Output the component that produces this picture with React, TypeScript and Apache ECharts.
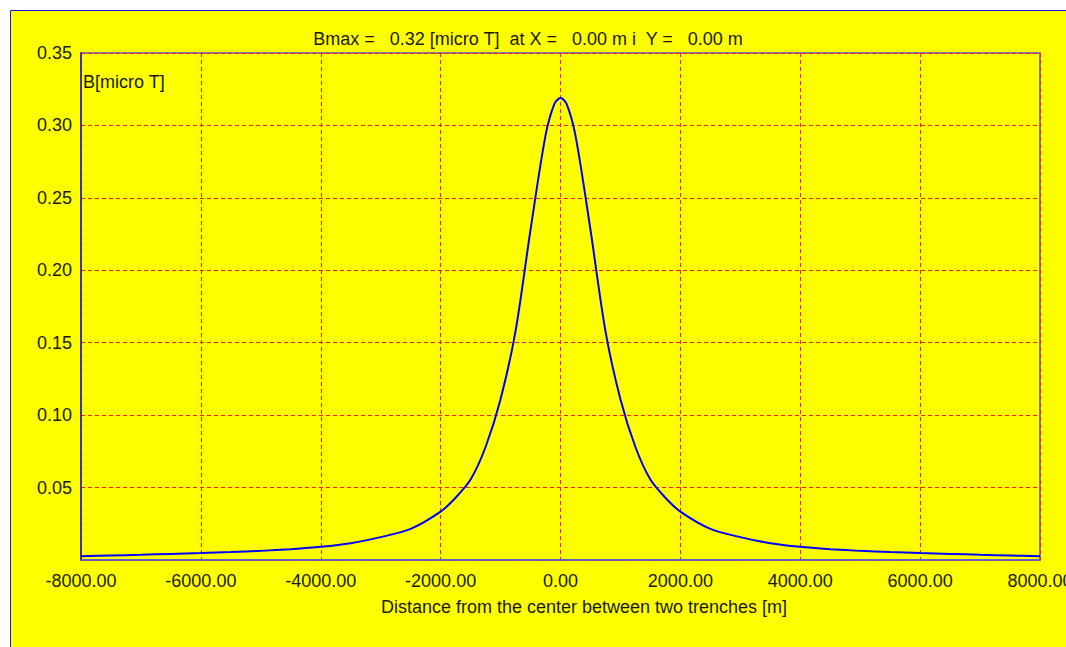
import React, { useEffect, useRef } from "react";
import * as echarts from "echarts";

const distances = [
  -8000, -7500, -7000, -6500, -6000, -5500, -5000, -4500, -4000, -3500, -3000, -2500,
  -2000, -1750, -1500, -1250, -1000, -750, -500, -250, -100, 0,
  100, 250, 500, 750, 1000, 1250, 1500, 1750, 2000, 2500, 3000, 3500, 4000, 4500,
  5000, 5500, 6000, 6500, 7000, 7500, 8000,
];
const fieldValues = [
  0.0026, 0.0031, 0.0036, 0.0042, 0.0048, 0.0055, 0.0063, 0.0075, 0.0091, 0.0116, 0.0158, 0.0215,
  0.0334, 0.043, 0.0555, 0.078, 0.111, 0.158, 0.228, 0.293, 0.315, 0.319,
  0.315, 0.293, 0.228, 0.158, 0.111, 0.078, 0.0555, 0.043, 0.0334, 0.0215, 0.0158, 0.0116, 0.0091, 0.0075,
  0.0063, 0.0055, 0.0048, 0.0042, 0.0036, 0.0031, 0.0026,
];
const titleText = "Bmax =   0.32 [micro T]  at X =   0.00 m i  Y =   0.00 m";
const yAxisTitle = "B[micro T]";
const xAxisTitle = "Distance from the center between two trenches [m]";

const FONT = "'Liberation Sans', Arial, sans-serif";
const FS = 18;

export default function App() {
  const ref = useRef<HTMLDivElement>(null);
  useEffect(() => {
    if (!ref.current) return;
    const chart = echarts.init(ref.current, null, { renderer: "svg" });
    const data = distances.map((d, i) => [d, fieldValues[i]]);
    chart.setOption({
      animation: false,
      backgroundColor: "#ffffff",
      textStyle: { fontFamily: FONT },
      graphic: [
        {
          type: "rect",
          z: -10,
          silent: true,
          shape: { x: 10.5, y: 10.5, width: 1070, height: 660 },
          style: { fill: "#ffff00", stroke: "#1010ff", lineWidth: 1 },
        },
        {
          type: "text",
          x: 528,
          y: 39,
          style: {
            text: titleText,
            font: `${FS}px ${FONT}`,
            fill: "#1a1a00",
            align: "center",
            verticalAlign: "middle",
          },
        },
        {
          type: "text",
          x: 83,
          y: 82,
          z: 10,
          style: {
            text: yAxisTitle,
            font: `${FS}px ${FONT}`,
            fill: "#1a1a00",
            align: "left",
            verticalAlign: "middle",
          },
        },
        {
          type: "text",
          x: 584,
          y: 607,
          style: {
            text: xAxisTitle,
            font: `${FS}px ${FONT}`,
            fill: "#1a1a00",
            align: "center",
            verticalAlign: "middle",
          },
        },
      ],
      grid: {
        left: 81,
        top: 53,
        right: 26,
        bottom: 87,
        outerBoundsMode: "none",
        containLabel: false,
        show: true,
        backgroundColor: "transparent",
        borderColor: "#5555c8",
        borderWidth: 1.5,
      },
      xAxis: {
        type: "value",
        min: -8000,
        max: 8000,
        interval: 2000,
        axisLine: { show: true, onZero: false, lineStyle: { color: "#5a5ad0", width: 1.5 } },
        axisTick: { show: false },
        axisLabel: {
          margin: 12,
          fontSize: FS,
          fontFamily: FONT,
          color: "#1a1a00",
          formatter: (v: number) => v.toFixed(2),
        },
        splitLine: { show: true, lineStyle: { color: "#ff1a00", width: 1, type: [4, 3] } },
      },
      yAxis: {
        type: "value",
        min: 0,
        max: 0.35,
        interval: 0.05,
        axisLine: { show: true, onZero: false, lineStyle: { color: "#2020e0", width: 1.5 } },
        axisTick: { show: false },
        axisLabel: {
          margin: 9,
          fontSize: FS,
          fontFamily: FONT,
          color: "#1a1a00",
          formatter: (v: number) => (v === 0 ? "" : v.toFixed(2)),
        },
        splitLine: { show: true, lineStyle: { color: "#ff1a00", width: 1, type: [4, 3] } },
      },
      series: [
        {
          type: "line",
          data,
          smooth: 0.3,
          showSymbol: false,
          lineStyle: { color: "#0000ff", width: 2 },
        },
      ],
    });
    return () => chart.dispose();
  }, []);
  return (
    <div
      ref={ref}
      style={{ position: "absolute", left: 0, top: 0, width: 1066, height: 647 }}
    />
  );
}
